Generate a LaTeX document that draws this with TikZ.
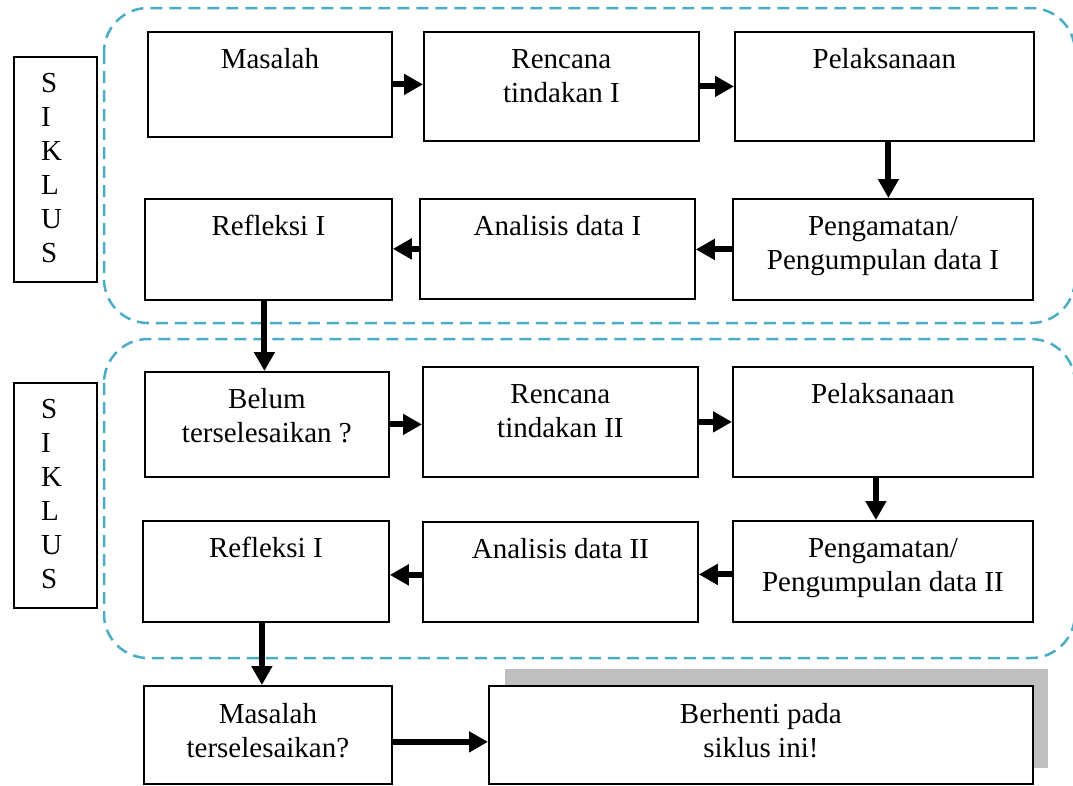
\documentclass[tikz,border=0pt]{standalone}
\usepackage{fontspec}
\setmainfont{Liberation Serif}
\usetikzlibrary{arrows.meta}
\definecolor{garis}{HTML}{4BACC6}
\definecolor{bayang}{HTML}{BFBFBF}
\newcommand{\isi}[1]{\begin{tabular}[t]{@{}c@{}}#1\end{tabular}}
\newcommand{\isikiri}[1]{\begin{tabular}[t]{@{}l@{}}#1\end{tabular}}

\begin{document}
\begin{tikzpicture}[x=1pt, y=-1pt,
    kotak/.style={draw, line width=1.8pt, anchor=north west, inner sep=0pt},
    teks/.style={anchor=base, inner sep=0pt, font=\fontsize{29}{34}\selectfont},
    panah/.style={line width=6pt, -{Triangle[length=19pt, width=20pt]}},
    siklus/.style={draw=garis, line width=2.5pt, dash pattern=on 12pt off 7pt,
                   rounded corners=44pt}]
  \useasboundingbox (0,0) rectangle (1073,785);

  % dua siklus
  \draw[siklus] (104,8) rectangle (1075,323);
  \draw[siklus] (104,339) rectangle (1075,658);

  % label siklus
  \node[kotak, minimum width=83pt, minimum height=225pt] (siklus1) at (13,56) {};
  \node[teks, anchor=base west] (tsiklus1) at ([xshift=28pt, yshift=-36pt]siklus1.north west)
    {\isikiri{S\\I\\K\\L\\U\\S}};
  \node[kotak, minimum width=83pt, minimum height=225pt] (siklus2) at (13,382) {};
  \node[teks, anchor=base west] (tsiklus2) at ([xshift=28pt, yshift=-36pt]siklus2.north west)
    {\isikiri{S\\I\\K\\L\\U\\S}};

  % siklus I
  \node[kotak, minimum width=244pt, minimum height=105pt] (masalah) at (147,31) {};
  \node[teks] (tmasalah) at ([yshift=-37pt]masalah.north) {\isi{Masalah}};
  \node[kotak, minimum width=275pt, minimum height=109pt] (rencana1) at (423,31) {};
  \node[teks] (trencana1) at ([yshift=-37pt]rencana1.north) {\isi{Rencana\\tindakan I}};
  \node[kotak, minimum width=299pt, minimum height=109pt] (pel1) at (734,31) {};
  \node[teks] (tpel1) at ([yshift=-37pt]pel1.north) {\isi{Pelaksanaan}};
  \node[kotak, minimum width=300pt, minimum height=101pt] (peng1) at (732,198) {};
  \node[teks] (tpeng1) at ([yshift=-37pt]peng1.north) {\isi{Pengamatan/\\Pengumpulan data I}};
  \node[kotak, minimum width=275pt, minimum height=100pt] (analisis1) at (419,198) {};
  \node[teks] (tanalisis1) at ([yshift=-37pt]analisis1.north) {\isi{Analisis data I}};
  \node[kotak, minimum width=247pt, minimum height=101pt] (refleksi1) at (144,198) {};
  \node[teks] (trefleksi1) at ([yshift=-37pt]refleksi1.north) {\isi{Refleksi I}};

  % siklus II
  \node[kotak, minimum width=244pt, minimum height=105pt] (belum) at (144,371) {};
  \node[teks] (tbelum) at ([yshift=-37pt]belum.north) {\isi{Belum\\terselesaikan ?}};
  \node[kotak, minimum width=275pt, minimum height=110pt] (rencana2) at (422,366) {};
  \node[teks] (trencana2) at ([yshift=-37pt]rencana2.north) {\isi{Rencana\\tindakan II}};
  \node[kotak, minimum width=300pt, minimum height=110pt] (pel2) at (732,366) {};
  \node[teks] (tpel2) at ([yshift=-37pt]pel2.north) {\isi{Pelaksanaan}};
  \node[kotak, minimum width=300pt, minimum height=101pt] (peng2) at (732,520) {};
  \node[teks] (tpeng2) at ([yshift=-37pt]peng2.north) {\isi{Pengamatan/\\Pengumpulan data II}};
  \node[kotak, minimum width=275pt, minimum height=100pt] (analisis2) at (422,521) {};
  \node[teks] (tanalisis2) at ([yshift=-37pt]analisis2.north) {\isi{Analisis data II}};
  \node[kotak, minimum width=246pt, minimum height=101pt] (refleksi2) at (142,520) {};
  \node[teks] (trefleksi2) at ([yshift=-37pt]refleksi2.north) {\isi{Refleksi I}};

  % akhir
  \fill[bayang] (505,669) rectangle (1048,768);
  \node[kotak, fill=white, minimum width=248pt, minimum height=98pt] (masalah2) at (143,685) {};
  \node[teks] (tmasalah2) at ([yshift=-38pt]masalah2.north) {\isi{Masalah\\terselesaikan?}};
  \node[kotak, fill=white, minimum width=544pt, minimum height=98pt] (berhenti) at (488,685) {};
  \node[teks] (tberhenti) at ([yshift=-38pt]berhenti.north) {\isi{Berhenti pada\\siklus ini!}};

  % panah
  \draw[panah] (masalah.east) -- (masalah.east -| rencana1.west);
  \draw[panah] (rencana1.east) -- (rencana1.east -| pel1.west);
  \draw[panah] ([xshift=4pt]pel1.south) -- ([xshift=4pt]pel1.south |- peng1.north);
  \draw[panah] (peng1.west) -- (peng1.west -| analisis1.east);
  \draw[panah] (analisis1.west) -- (analisis1.west -| refleksi1.east);
  \draw[panah] ([xshift=-4pt]refleksi1.south) -- ([xshift=-4pt]refleksi1.south |- belum.north);
  \draw[panah] (belum.east) -- (belum.east -| rencana2.west);
  \draw[panah] (rencana2.east) -- (rencana2.east -| pel2.west);
  \draw[panah] ([xshift=-7pt]pel2.south) -- ([xshift=-7pt]pel2.south |- peng2.north);
  \draw[panah] ([yshift=-3pt]peng2.west) -- ([yshift=-3pt]peng2.west -| analisis2.east);
  \draw[panah] ([yshift=-3pt]analisis2.west) -- ([yshift=-3pt]analisis2.west -| refleksi2.east);
  \draw[panah] ([xshift=-4pt]refleksi2.south) -- ([xshift=-4pt]refleksi2.south |- masalah2.north);
  \draw[panah] ([yshift=-7pt]masalah2.east) -- ([yshift=-7pt]masalah2.east -| berhenti.west);
\end{tikzpicture}
\end{document}
